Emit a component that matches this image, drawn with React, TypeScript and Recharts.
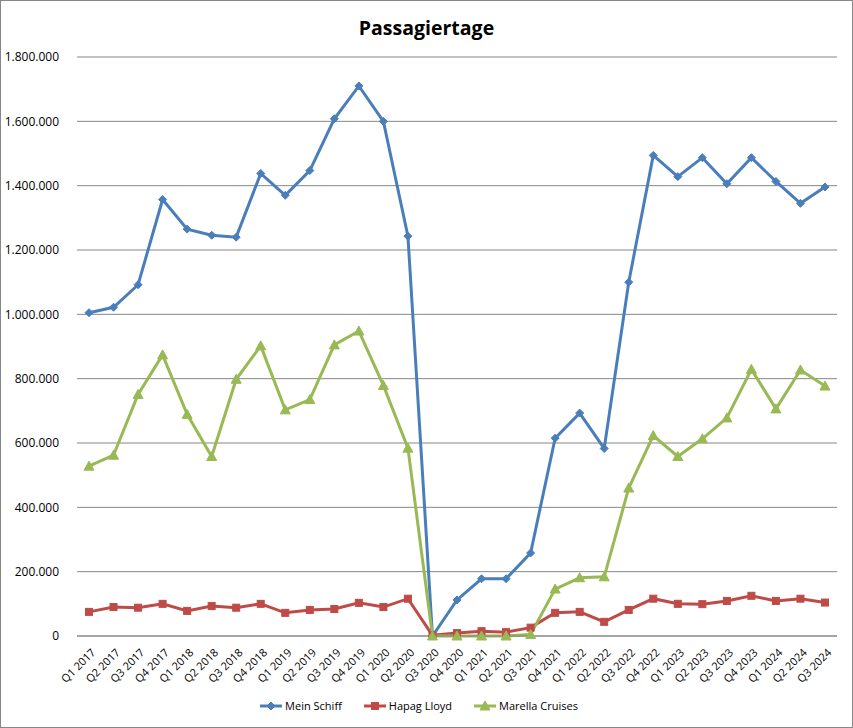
import { CartesianGrid, Legend, Line, LineChart, XAxis, YAxis } from "recharts";

const QUARTERS = [
  "Q1 2017", "Q2 2017", "Q3 2017", "Q4 2017",
  "Q1 2018", "Q2 2018", "Q3 2018", "Q4 2018",
  "Q1 2019", "Q2 2019", "Q3 2019", "Q4 2019",
  "Q1 2020", "Q2 2020", "Q3 2020", "Q4 2020",
  "Q1 2021", "Q2 2021", "Q3 2021", "Q4 2021",
  "Q1 2022", "Q2 2022", "Q3 2022", "Q4 2022",
  "Q1 2023", "Q2 2023", "Q3 2023", "Q4 2023",
  "Q1 2024", "Q2 2024", "Q3 2024",
];

const MEIN_SCHIFF = [
  1005000, 1022000, 1092000, 1357000,
  1265000, 1246000, 1240000, 1438000,
  1370000, 1447000, 1608000, 1710000,
  1600000, 1243000, 0, 112000,
  178000, 178000, 258000, 615000,
  693000, 583000, 1100000, 1494000,
  1428000, 1487000, 1406000, 1487000,
  1413000, 1345000, 1396000,
];

const HAPAG_LLOYD = [
  75000, 90000, 88000, 100000,
  78000, 93000, 88000, 100000,
  72000, 81000, 84000, 103000,
  90000, 116000, 2000, 9000,
  15000, 12000, 26000, 72000,
  75000, 44000, 81000, 116000,
  100000, 99000, 109000, 125000,
  109000, 116000, 104000,
];

const MARELLA = [
  528000, 562000, 751000, 874000,
  689000, 558000, 798000, 902000,
  703000, 735000, 905000, 948000,
  779000, 584000, 0, 0,
  0, 0, 5000, 146000,
  181000, 184000, 460000, 623000,
  558000, 613000, 678000, 829000,
  706000, 827000, 777000,
];

const Y_TICKS = [0, 200000, 400000, 600000, 800000, 1000000, 1200000, 1400000, 1600000, 1800000];

const BLUE = "#4A7EBB";
const RED = "#BE4B48";
const GREEN = "#98B954";
const GRID = "#868686";
const FONT = "'Open Sans', 'Noto Sans', sans-serif";

const data = QUARTERS.map((q, i) => ({
  q,
  mein: MEIN_SCHIFF[i],
  hapag: HAPAG_LLOYD[i],
  marella: MARELLA[i],
}));

const fmt = (v: number) => String(v).replace(/\B(?=(\d{3})+(?!\d))/g, ".");

type Shape = "diamond" | "square" | "triangle";

function marker(shape: Shape, color: string, cx: number, cy: number, key?: string) {
  if (shape === "diamond") {
    const r = 4;
    return (
      <polygon key={key} points={`${cx},${cy - r} ${cx + r},${cy} ${cx},${cy + r} ${cx - r},${cy}`} fill={color} stroke={color} />
    );
  }
  if (shape === "square") {
    const s = 7;
    return <rect key={key} x={cx - s / 2} y={cy - s / 2} width={s} height={s} fill={color} stroke={color} />;
  }
  const r = 5;
  return (
    <polygon key={key} points={`${cx},${cy - r} ${cx + r},${cy + r * 0.8} ${cx - r},${cy + r * 0.8}`} fill={color} stroke={color} />
  );
}

const dotFor = (shape: Shape, color: string) => (props: any) =>
  marker(shape, color, props.cx, props.cy, `${shape}-${props.index}`);

const LEGEND = [
  { label: "Mein Schiff", color: BLUE, shape: "diamond" as Shape },
  { label: "Hapag Lloyd", color: RED, shape: "square" as Shape },
  { label: "Marella Cruises", color: GREEN, shape: "triangle" as Shape },
];

function LegendContent() {
  return (
    <div style={{ display: "flex", justifyContent: "center", gap: 22, fontFamily: FONT, fontSize: 11, color: "#000" }}>
      {LEGEND.map((it) => (
        <div key={it.label} style={{ display: "flex", alignItems: "center", gap: 3 }}>
          <svg width={22} height={10}>
            <line x1={0} y1={5} x2={22} y2={5} stroke={it.color} strokeWidth={3} />
            {marker(it.shape, it.color, 11, 5)}
          </svg>
          <span>{it.label}</span>
        </div>
      ))}
    </div>
  );
}

function AngledTick(props: any) {
  const { x, y, payload } = props;
  return (
    <text
      x={x + 4}
      y={y + 6}
      transform={`rotate(-45, ${x + 4}, ${y + 6})`}
      textAnchor="end"
      dominantBaseline="central"
      fontFamily={FONT}
      fontSize={11}
      fill="#000"
    >
      {payload.value}
    </text>
  );
}

export default function App() {
  return (
    <div
      style={{
        position: "absolute",
        left: 0,
        top: 0,
        width: 853,
        height: 728,
        boxSizing: "border-box",
        border: `1px solid ${GRID}`,
        background: "#fff",
      }}
    >
      <div
        style={{
          position: "absolute",
          top: 13,
          width: "100%",
          textAlign: "center",
          fontFamily: FONT,
          fontWeight: 700,
          fontSize: 19.5,
          color: "#000",
        }}
      >
        Passagiertage
      </div>
      <LineChart
        width={851}
        height={726}
        data={data}
        margin={{ top: 56, right: 15, left: 0, bottom: 14 }}
      >
        <CartesianGrid vertical={false} stroke={GRID} />
        <XAxis
          dataKey="q"
          interval={0}
          height={62}
          padding={{ left: 12, right: 12 }}
          tick={<AngledTick />}
          tickLine={false}
          axisLine={{ stroke: GRID }}
        />
        <YAxis
          width={76}
          domain={[0, 1800000]}
          ticks={Y_TICKS}
          tickFormatter={fmt}
          tick={{ fontFamily: FONT, fontSize: 12, fill: "#000" }}
          tickLine={false}
          axisLine={false}
          tickMargin={12}
        />
        <Legend verticalAlign="bottom" content={<LegendContent />} />
        <Line
          dataKey="mein"
          stroke={BLUE}
          strokeWidth={3}
          dot={dotFor("diamond", BLUE)}
          isAnimationActive={false}
        />
        <Line
          dataKey="hapag"
          stroke={RED}
          strokeWidth={3}
          dot={dotFor("square", RED)}
          isAnimationActive={false}
        />
        <Line
          dataKey="marella"
          stroke={GREEN}
          strokeWidth={3}
          dot={dotFor("triangle", GREEN)}
          isAnimationActive={false}
        />
      </LineChart>
    </div>
  );
}
